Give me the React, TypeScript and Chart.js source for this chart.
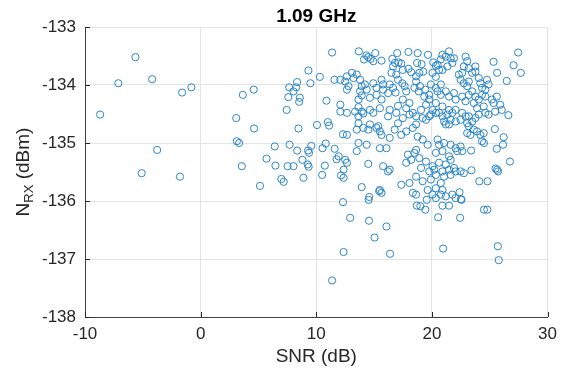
import React, { useEffect, useRef } from "react";
import { Chart, registerables } from "chart.js";

Chart.register(...registerables);

const titleText = "1.09 GHz";
const xTitle = "SNR (dB)";
const xTicks = [-10, 0, 10, 20, 30];
const yTicks = [-138, -137, -136, -135, -134, -133];

// SNR (dB) values of each measured point
const snr = [
  -8.69, -7.12, -5.64, -4.19, -1.6, -0.8, -3.76, -5.1, -1.79,
  3.65, 3.08, 3.13, 3.33, 3.56, 4.59, 4.62,
  5.7, 6.47, 6.41, 5.13, 6.98, 7.18,
  7.52, 8.03, 8.8, 9.26, 9.34, 7.69, 8.35, 9.29, 9.57, 9.37, 8.89,
  10.82, 10.54, 11.59, 10.74, 11.76, 10.51, 12.14, 12.36, 12.31,
  8.46, 10.06, 11.0, 11.11, 12.31,
  11.37, 9.32, 10.31, 11.57, 9.49, 8.34, 7.66, 8.26, 8.03, 7.58, 8.58, 8.52, 7.44, 10.88, 12.08,
  14.53, 12.93, 14.56, 16.07, 15.04, 12.36, 16.38, 11.37,
  18.69, 19.0, 19.43, 19.55, 20.91, 21.48, 22.56, 20.54, 22.44, 24.5, 24.79, 20.97, 25.7, 25.78,
  27.46, 27.06, 27.69, 25.33, 26.47, 25.64,
  26.61, 25.44, 26.21, 26.15, 25.61, 26.75, 25.64, 25.5, 25.72, 24.1, 24.81, 23.42, 24.5, 23.39,
  22.39, 22.51,
  13.68, 15.1, 14.33, 14.5, 14.13, 14.7, 14.93, 15.64, 17.0, 16.58, 16.81, 16.64, 17.12, 17.35, 17.49,
  17.97, 18.77, 19.66, 18.72, 19.11, 19.25, 18.91, 17.97, 18.21, 18.63, 20.11, 20.34, 20.62,
  20.05, 20.34, 16.5, 16.92, 17.07, 15.64, 15.78, 17.44, 17.64, 17.78, 18.63, 18.97, 18.86, 18.49,
  19.43, 19.77, 19.34, 19.91, 20.34, 20.77,
  12.65, 12.5, 12.79, 12.65, 13.08, 13.22, 13.5, 13.79, 13.93, 12.08,
  14.21, 14.36, 14.93, 15.21, 13.79, 13.93, 13.65, 14.64, 15.21, 15.64, 15.78, 16.21, 16.35, 16.64, 16.86,
  13.65, 13.93, 14.64, 14.93, 15.5, 16.35, 16.21, 16.92, 17.07, 17.49, 17.78, 18.06, 18.35, 19.06,
  19.49, 19.77, 20.06, 20.34, 18.63, 19.2, 19.77,
  12.08, 12.65, 13.36, 14.07, 17.49, 18.06, 19.49, 19.91, 20.34, 21.05, 13.65,
  13.65, 14.07, 14.5, 14.64, 15.21, 15.5, 15.64, 15.36, 12.65,
  13.5, 13.65, 14.36, 13.5, 15.5, 16.07,
  16.35, 16.78, 17.07, 17.35, 17.78, 18.35, 18.63, 18.77, 19.2, 19.63, 18.49, 18.63, 18.21, 17.78,
  17.92, 18.91, 19.49, 20.06, 20.34,
  19.77, 20.2, 20.34, 19.91, 19.06, 18.63, 19.2, 19.63, 20.06, 20.77, 20.34,
  11.94, 12.5, 12.65, 12.36,
  14.5, 15.78, 16.21, 16.35, 13.93, 15.5, 15.44, 15.64, 14.58, 17.35, 18.06, 18.35, 18.63, 20.34,
  21.48, 20.91, 20.77, 20.49, 21.2, 21.62, 21.91, 21.77, 21.34, 20.91,
  22.91, 23.05, 22.76, 23.19, 23.76, 23.76, 23.48, 22.62,
  22.33, 22.48, 22.76, 23.19, 23.05, 24.05, 24.19, 24.33, 24.62, 24.9, 24.76, 24.33, 24.62, 24.05,
  20.49, 20.77, 21.2, 21.48, 21.91, 22.05, 22.62, 22.91, 23.19, 23.48, 23.62, 23.76,
  25.19, 25.33, 25.9, 25.61, 26.04, 25.47, 24.9,
  20.91, 21.48, 22.05, 22.62, 23.19, 24.48, 23.9,
  20.62, 20.91, 21.34, 21.77, 21.62, 21.2, 21.48, 22.05, 22.48, 22.91, 23.05, 23.19, 23.48, 23.76,
  24.05, 24.62, 23.62, 23.05, 23.33, 23.9, 24.19, 24.48, 24.33,
  20.49, 20.62, 20.91, 21.05, 21.62, 22.05, 22.48, 22.19, 22.62, 21.48, 21.62, 21.2, 20.62,
  20.91, 21.48, 21.91, 22.05, 22.48, 22.76, 21.62, 21.05,
  20.91, 20.77, 21.2, 21.77, 22.05
];

// Noise power N_RX (dBm) of each measured point
const nrx = [
  -134.51, -133.97, -133.52, -133.9, -134.13, -134.04, -135.12, -135.52, -135.58,
  -134.17, -134.57, -134.97, -135.0, -135.4, -134.08, -134.75,
  -135.27, -135.39, -135.06, -135.74, -135.62, -135.67,
  -135.4, -135.4, -135.29, -135.37, -135.41, -135.03, -135.13, -135.13, -135.05, -135.17, -135.6,
  -135.01, -135.09, -135.1, -135.39, -135.28, -135.55, -135.56, -135.6, -136.02,
  -134.75, -134.69, -134.64, -134.7, -134.85,
  -133.44, -133.75, -133.86, -133.91, -133.97, -133.95, -134.04, -134.04, -134.11, -134.21, -134.22, -134.29, -134.43, -134.27, -134.34,
  -135.98, -136.29, -136.34, -136.44, -136.63, -136.88, -136.91, -137.37,
  -136.08, -136.09, -136.15, -135.98, -136.08, -136.08, -135.98, -136.28, -136.29, -136.15, -136.15, -136.82, -136.78, -137.02,
  -133.44, -133.66, -133.79, -133.6, -133.93, -133.79,
  -134.52, -134.76, -134.9, -135.03, -135.1, -135.32, -135.46, -135.44, -135.49, -135.66, -135.66, -135.47, -135.0, -135.13,
  -135.85, -135.97,
  -133.42, -133.45, -133.49, -133.52, -133.56, -133.55, -133.59, -133.58, -133.45, -133.55, -133.62, -133.68, -133.61, -133.63, -133.74,
  -133.43, -133.45, -133.48, -133.62, -133.64, -133.77, -133.79, -133.72, -133.78, -133.85, -133.61, -133.67, -133.74,
  -133.79, -133.86, -133.79, -133.82, -133.91, -133.91, -133.99, -133.97, -134.02, -134.11, -133.94, -134.02, -134.11, -134.05,
  -134.08, -134.17, -134.2, -133.99, -134.05, -133.99,
  -133.85, -133.94, -134.02, -134.08, -133.79, -133.88, -133.82, -133.91, -134.02, -133.91,
  -133.99, -134.08, -133.97, -134.05, -134.11, -134.18, -134.25, -134.22, -134.17, -134.25, -134.08, -134.14, -133.99, -134.05, -134.13,
  -134.38, -134.46, -134.43, -134.48, -134.4, -134.43, -134.54, -134.48, -134.36, -134.25, -134.4, -134.31, -134.48, -134.43,
  -134.34, -134.25, -134.43, -134.31, -134.54, -134.57, -134.54,
  -134.46, -134.48, -134.46, -134.49, -134.57, -134.51, -134.6, -134.51, -134.48, -134.63, -134.54,
  -134.66, -134.74, -134.77, -134.68, -134.74, -134.8, -134.86, -134.71, -134.86,
  -134.77, -135.0, -135.03, -135.14, -135.09, -135.09,
  -134.91, -134.77, -134.66, -134.86, -134.8, -134.74, -134.68, -134.89, -134.94, -135.03, -135.17, -135.12, -135.29, -135.34,
  -135.2, -135.26, -135.32, -135.4, -135.17,
  -135.49, -135.46, -135.55, -135.63, -135.43, -135.58, -135.66, -135.81, -135.89, -135.69, -135.78,
  -135.23, -135.29, -135.34, -135.46,
  -135.36, -135.4, -135.49, -135.46, -135.76, -135.81, -135.83, -135.86, -135.93, -135.72, -135.69, -135.86, -135.89, -135.95,
  -133.42, -133.48, -133.56, -133.65, -133.51, -133.54, -133.54, -133.62, -133.68, -133.74,
  -133.51, -133.59, -133.68, -133.71, -133.68, -133.77, -133.79, -133.79,
  -133.82, -133.91, -133.97, -133.94, -134.02, -133.88, -133.97, -134.05, -134.08, -133.99, -133.91, -134.17, -134.2, -134.25,
  -134.11, -134.17, -134.11, -134.2, -134.14, -134.25, -134.2, -134.28, -134.17, -134.11, -134.31, -134.2,
  -134.25, -134.31, -134.34, -134.2, -134.43, -134.46, -134.51,
  -134.37, -134.43, -134.43, -134.48, -134.54, -134.37, -134.4,
  -134.48, -134.54, -134.51, -134.48, -134.6, -134.68, -134.68, -134.63, -134.6, -134.54, -134.66, -134.71, -134.63, -134.57,
  -134.51, -134.48, -134.77, -134.83, -134.86, -134.8, -134.86, -134.83, -134.97,
  -134.94, -135.03, -135.14, -135.0, -135.03, -135.09, -135.06, -135.14, -135.14, -135.23, -135.29, -135.37, -135.34,
  -135.49, -135.46, -135.43, -135.49, -135.49, -135.52, -135.55, -135.58,
  -135.81, -135.89, -135.92, -135.89, -135.95
];

const FONT = '"Liberation Sans", Arial, Helvetica, sans-serif';
const TEXT = "#262626";

const labelsPlugin = {
  id: "matlabLabels",
  afterDraw(chart: any) {
    const { ctx, chartArea } = chart;
    const { left, right, top, bottom } = chartArea;
    const xs = chart.scales.x;
    const ys = chart.scales.y;
    ctx.save();
    // inward ticks
    ctx.strokeStyle = TEXT;
    ctx.lineWidth = 1;
    ctx.beginPath();
    xTicks.forEach((t) => {
      const px = Math.round(xs.getPixelForValue(t)) + 0.5;
      ctx.moveTo(px, bottom);
      ctx.lineTo(px, bottom - 5);
    });
    yTicks.forEach((t) => {
      const py = Math.round(ys.getPixelForValue(t)) + 0.5;
      ctx.moveTo(left, py);
      ctx.lineTo(left + 5, py);
    });
    ctx.stroke();
    // title
    ctx.fillStyle = "#000";
    ctx.font = `bold 19px ${FONT}`;
    ctx.textAlign = "center";
    ctx.textBaseline = "alphabetic";
    ctx.fillText(titleText, (left + right) / 2, 22);
    // x title
    ctx.fillStyle = TEXT;
    ctx.font = `19px ${FONT}`;
    ctx.textBaseline = "middle";
    ctx.fillText(xTitle, (left + right) / 2, 357);
    // y title with subscript
    ctx.translate(22, (top + bottom) / 2);
    ctx.rotate(-Math.PI / 2);
    const big = `19px ${FONT}`;
    const small = `13px ${FONT}`;
    ctx.font = big;
    const wN = ctx.measureText("N").width;
    const wRest = ctx.measureText(" (dBm)").width;
    ctx.font = small;
    const wSub = ctx.measureText("RX").width;
    const total = wN + wSub + wRest;
    let x0 = -total / 2;
    ctx.textAlign = "left";
    ctx.textBaseline = "alphabetic";
    ctx.font = big;
    ctx.fillText("N", x0, 7);
    x0 += wN;
    ctx.font = small;
    ctx.fillText("RX", x0, 11);
    x0 += wSub;
    ctx.font = big;
    ctx.fillText(" (dBm)", x0, 7);
    ctx.restore();
  }
};

export default function App() {
  const ref = useRef<HTMLCanvasElement | null>(null);
  useEffect(() => {
    if (!ref.current) return;
    const points = snr.map((x, i) => ({ x, y: nrx[i] }));
    const chart = new Chart(ref.current, {
      type: "scatter",
      data: {
        datasets: [
          {
            data: points,
            showLine: false,
            pointStyle: "circle",
            pointRadius: 3.6,
            pointBorderWidth: 1,
            borderColor: "#0072BD",
            backgroundColor: "rgba(0,0,0,0)",
            pointBackgroundColor: "rgba(0,0,0,0)",
            pointBorderColor: "#2a86c8"
          }
        ]
      },
      options: {
        responsive: false,
        animation: false,
        events: [],
        layout: { padding: { top: 27, right: 11, left: 0, bottom: 0 } },
        plugins: {
          legend: { display: false },
          tooltip: { enabled: false },
          title: { display: false }
        },
        scales: {
          x: {
            type: "linear",
            min: -10,
            max: 30,
            afterBuildTicks: (s: any) => {
              s.ticks = xTicks.map((v) => ({ value: v }));
            },
            afterFit: (s: any) => {
              s.height = 58;
            },
            ticks: {
              font: { family: FONT, size: 17 },
              color: TEXT,
              padding: 7,
              maxRotation: 0
            },
            grid: { color: "#e4e4e4", drawTicks: false },
            border: { color: "#404040", width: 1 }
          },
          y: {
            type: "linear",
            min: -138,
            max: -133,
            afterBuildTicks: (s: any) => {
              s.ticks = yTicks.map((v) => ({ value: v }));
            },
            afterFit: (s: any) => {
              s.width = 85;
            },
            ticks: {
              font: { family: FONT, size: 17 },
              color: TEXT,
              padding: 9
            },
            grid: { color: "#e4e4e4", drawTicks: false },
            border: { color: "#404040", width: 1 }
          }
        }
      },
      plugins: [labelsPlugin]
    } as any);
    return () => chart.destroy();
  }, []);
  return (
    <div style={{ position: "fixed", left: 0, top: 0, width: 564, height: 375, background: "#fff" }}>
      <canvas ref={ref} width={564} height={375} style={{ display: "block" }} />
    </div>
  );
}
